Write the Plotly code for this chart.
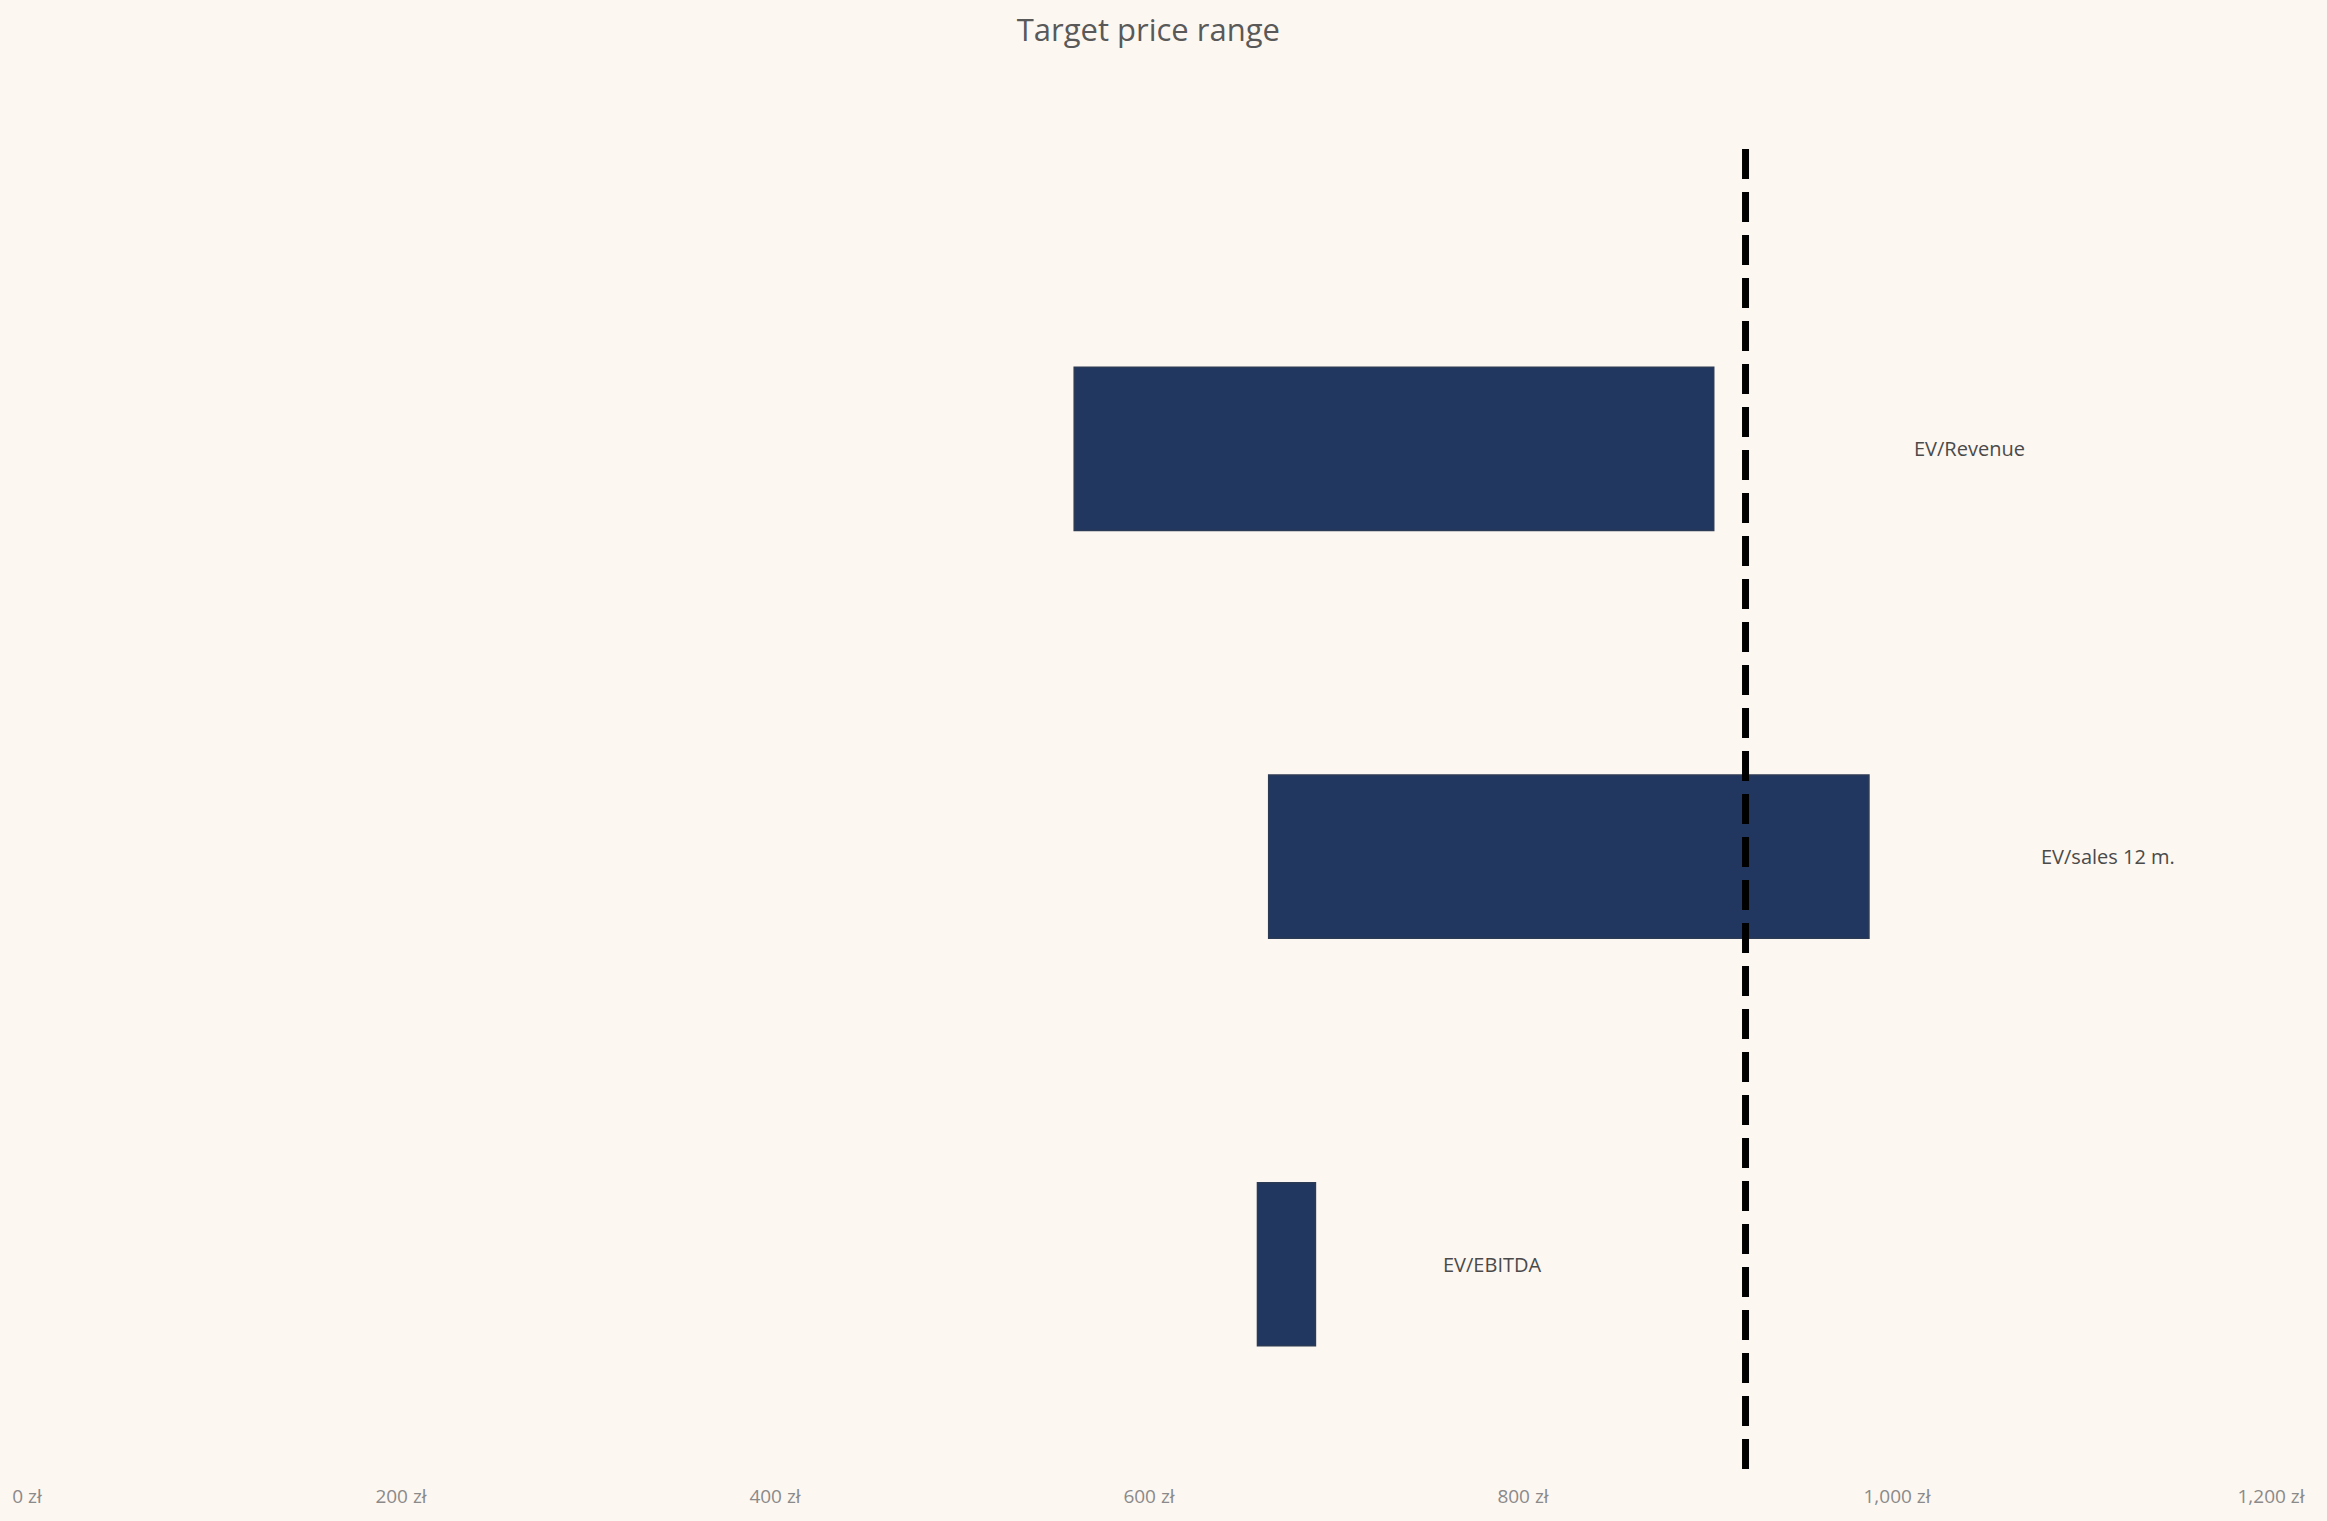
import plotly.graph_objects as go

categories = ["EV/Revenue", "EV/sales 12 m.", "EV/EBITDA"]
low_values = [560, 664, 658]
high_values = [902, 985, 689]
target_price = 919
tick_values = [0, 200, 400, 600, 800, 1000, 1200]
tick_labels = ["0 zł", "200 zł", "400 zł", "600 zł", "800 zł", "1,000 zł", "1,200 zł"]

# layout-only: x position where each label starts
label_x = [1008, 1076, 756]

widths = [h - l for h, l in zip(high_values, low_values)]
ypos = list(range(len(categories)))

fig = go.Figure()
fig.add_trace(go.Bar(
    y=ypos, x=widths, base=low_values, orientation="h",
    width=0.4,
    marker=dict(color="#21375f", line=dict(color="#2c3b55", width=1.5)),
    hoverinfo="skip", showlegend=False,
))

for i, (cat, lx) in enumerate(zip(categories, label_x)):
    fig.add_annotation(x=lx, y=i, text=cat, showarrow=False, xanchor="left",
                       yanchor="middle", font=dict(size=20, color="#4a4a4a", family="Open Sans"))

fig.add_shape(type="line", xref="x", yref="paper", x0=target_price, x1=target_price,
              y0=0, y1=1, line=dict(color="#000000", width=7, dash="30px,13px"))

fig.update_layout(
    width=2327, height=1521,
    paper_bgcolor="#fdf7f2", plot_bgcolor="#fdf7f2",
    margin=dict(l=25, r=56, t=148, b=49),
    title=dict(text="Target price range", x=0.4935, xanchor="center", y=0.987, yanchor="top",
               font=dict(size=31, color="#595959", family="Open Sans")),
    xaxis=dict(range=[0, 1200], tickvals=tick_values, ticktext=tick_labels,
               showgrid=False, zeroline=False, showline=False,
               ticks="outside", ticklen=10, tickcolor="rgba(0,0,0,0)",
               tickfont=dict(size=19, color="#8a8a8a", family="Open Sans")),
    yaxis=dict(range=[2.502, -0.738], showgrid=False, zeroline=False, showline=False,
               showticklabels=False, ticks=""),
)

fig.write_html("out.html", config={"displayModeBar": False},
               post_script="document.body.style.margin='0';document.body.style.overflow='hidden';")
